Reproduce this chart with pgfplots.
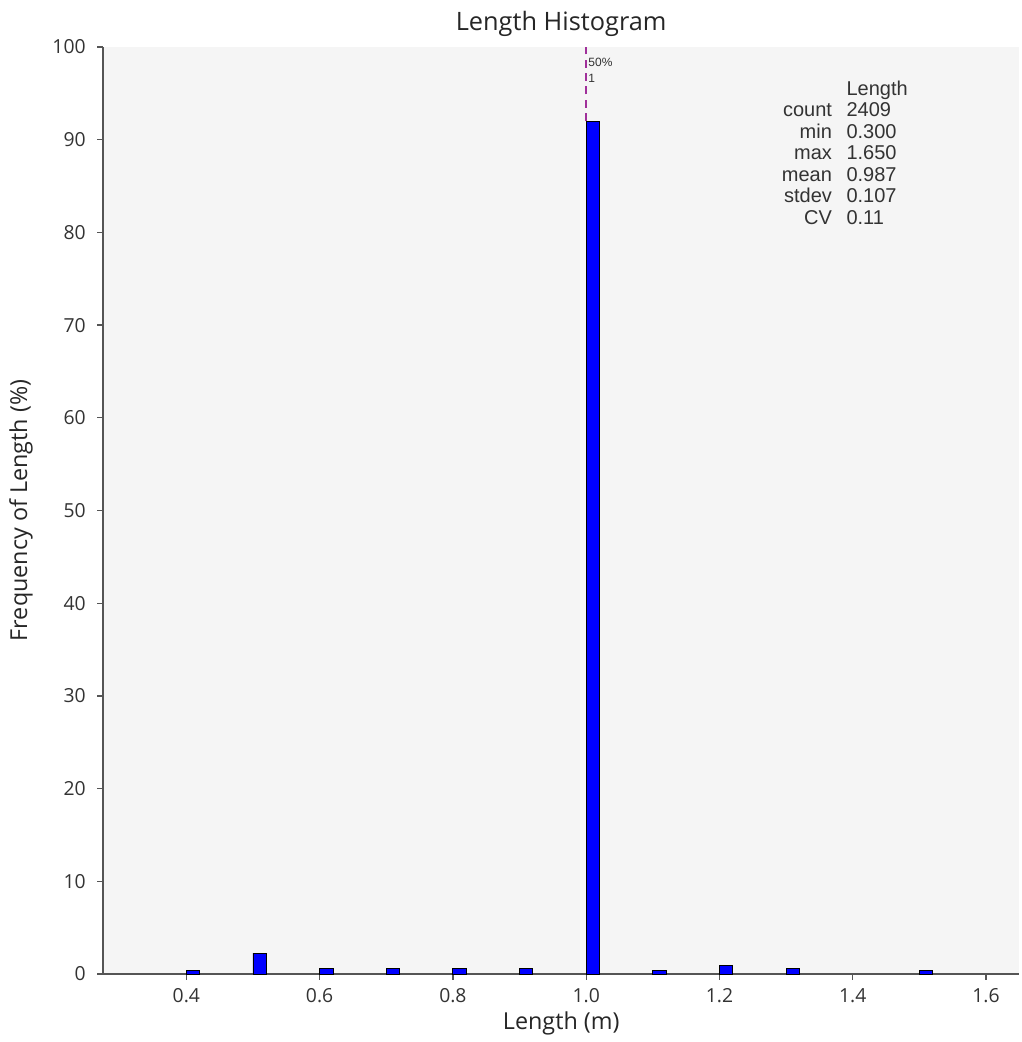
\documentclass[border=0pt]{standalone}
\usepackage{pgfplots}
\pgfplotsset{compat=1.18}
\usepackage{fontspec}
\setmainfont{Open Sans}
\newfontfamily\arialfont{Liberation Sans}
\definecolor{plotbg}{HTML}{F5F5F5}
\definecolor{axgray}{HTML}{555555}
\definecolor{medline}{HTML}{A0309A}
\begin{document}
\begin{tikzpicture}
	\begin{axis}[
	scale only axis,
	width=687pt,
	height=695pt,
	xmin=0.275, xmax=1.65,
	ymin=0, ymax=100,
	axis x line*=bottom,
	axis y line*=left,
	axis line style={axgray, line width=1pt, -},
	axis background/.style={fill=plotbg},
	xtick={0.4,0.6,...,1.6},
	ytick={0,10,...,100},
	tick align=outside,
	major tick length=4.5pt,
	tick style={axgray, line width=1pt},
	/pgf/number format/assume math mode=true,
	ticklabel style={font=\fontsize{14.5}{16}\selectfont, text=black!80},
	xticklabel style={yshift=-3pt, /pgf/number format/.cd, fixed, fixed zerofill, precision=1},
	yticklabel style={xshift=-5pt},
	title={Length Histogram},
	title style={at={(0.5,1.0165)}, anchor=center, font=\fontsize{19}{22}\selectfont, text=black!85},
	xlabel={Length (m)},
	xlabel style={at={(0.5,-0.0529)}, anchor=center, font=\fontsize{17.5}{20}\selectfont, text=black!85},
	ylabel={Frequency of Length (\%)},
	ylabel style={at={(-0.0895,0.5)}, anchor=center, font=\fontsize{17.5}{20}\selectfont, text=black!85},
	clip=false,
	]
	% histogram bins, percent of 2409 pieces
	\addplot[ybar, bar width=0.02, bar shift=0.01, fill=blue, draw=black, line width=0.6pt]
	coordinates {(0.4,0.35) (0.5,2.25) (0.6,0.55) (0.7,0.55) (0.8,0.55) (0.9,0.55)
		(1.0,92) (1.1,0.35) (1.2,0.9) (1.3,0.55) (1.5,0.35)};
	% median marker
	\addplot[medline, line width=1.2pt, dash pattern=on 6pt off 4pt, mark=none]
	coordinates {(1.0,92) (1.0,100)};
	\node[anchor=north west, inner sep=0pt, align=left, font=\arialfont\fontsize{9}{12}\selectfont, text=black!80]
	at ([xshift=1.5pt,yshift=-8pt]axis cs:1.0,100) {50\%\\1};
	\node[anchor=north east, inner sep=0pt, align=right, font=\arialfont\fontsize{15}{16.1}\selectfont, text=black!80]
	at (rel axis cs:0.7958,0.9644) {\strut\\count\\min\\max\\mean\\stdev\\CV};
	\node[anchor=north west, inner sep=0pt, align=left, font=\arialfont\fontsize{15}{16.1}\selectfont, text=black!80]
	at (rel axis cs:0.8111,0.9644) {\strut Length\\2409\\0.300\\1.650\\0.987\\0.107\\0.11};
	\end{axis}
	\pgfresetboundingbox
	\path ([shift={(-77.25pt,-51pt)}]current axis.south west) rectangle ([shift={(1.5pt,35.25pt)}]current axis.north east);
\end{tikzpicture}
\end{document}
